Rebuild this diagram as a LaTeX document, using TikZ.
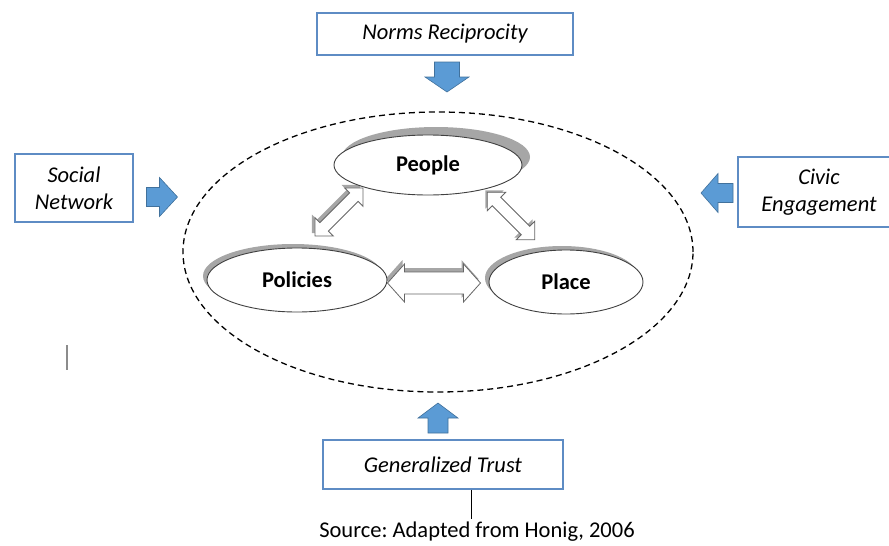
\documentclass[tikz,border=0pt]{standalone}
\usepackage{fontspec}
\setmainfont{Carlito}
\frenchspacing
\usetikzlibrary{shapes.geometric,shadows}
\definecolor{boxblue}{HTML}{5E8CC4}
\definecolor{arrowfill}{HTML}{5B9BD5}
\definecolor{arrowedge}{HTML}{41719C}
\tikzset{
  labelbox/.style={draw=boxblue, line width=1.5pt, fill=white, inner sep=0pt,
    font=\fontsize{22.5}{27}\selectfont\itshape, align=center},
  oval/.style={ellipse, draw=black!75, line width=0.9pt, fill=white, inner sep=0pt,
    font=\fontsize{22.5}{27}\selectfont\bfseries},
  % solid blue block arrow pointing along +x: length, head length, head half width, shaft half width
  pics/blockarrow/.style n args={4}{code={
    \path[fill=arrowfill, draw=arrowedge, line width=0.6pt, line join=miter]
      ({-#1/2},{-#4}) -- ({#1/2-#2},{-#4}) -- ({#1/2-#2},{-#3}) -- ({#1/2},0)
      -- ({#1/2-#2},{#3}) -- ({#1/2-#2},{#4}) -- ({-#1/2},{#4}) -- cycle;
  }},
  % hollow double-headed block arrow along x
  pics/dblarrow/.style n args={4}{code={
    \path[pic actions]
      ({-#1/2},0) -- ({-#1/2+#2},{-#3}) -- ({-#1/2+#2},{-#4}) -- ({#1/2-#2},{-#4})
      -- ({#1/2-#2},{-#3}) -- ({#1/2},0) -- ({#1/2-#2},{#3}) -- ({#1/2-#2},{#4})
      -- ({-#1/2+#2},{#4}) -- ({-#1/2+#2},{#3}) -- cycle;
  }},
  hollow/.style={draw=black!60, line width=0.8pt, fill=white},
  shade/.style={draw=none, fill=black!35},
}
\begin{document}
\begin{tikzpicture}[x=1pt,y=-1pt]
  \useasboundingbox (0,0) rectangle (889,546);
  \clip (0,0) rectangle (889,546);

  % outer dashed boundary
  \node[ellipse, draw=black, line width=1.3pt, dash pattern=on 6pt off 4pt,
        minimum width=510pt, minimum height=280pt, inner sep=0pt] (frame) at (438,252) {};

  % hollow two-way arrows between the three ovals
  \pic[shift={(-3,-3)}, rotate=45, shade] at (339,212) {dblarrow={68}{13}{13}{6}};
  \pic[rotate=45, hollow] at (339,212) {dblarrow={68}{13}{13}{6}};
  \pic[shift={(-2,-2)}, rotate=-45, shade] at (511,216) {dblarrow={67}{13}{13}{6}};
  \pic[rotate=-45, hollow] at (511,216) {dblarrow={67}{13}{13}{6}};
  \pic[shift={(-2,-4)}, shade] at (434,283) {dblarrow={93}{17}{19}{11}};
  \pic[hollow] at (434,283) {dblarrow={93}{17}{19}{11}};

  % the three ovals
  \node[oval, minimum width=188pt, minimum height=60pt,
        drop shadow={shadow xshift=8pt, shadow yshift=8pt, fill=black!35, opacity=1}]
        (people) at (428,165) {People};
  \node[oval, minimum width=180pt, minimum height=64pt,
        drop shadow={shadow xshift=-4pt, shadow yshift=4pt, fill=black!35, opacity=1}]
        (policies) at (297,280) {Policies};
  \node[oval, minimum width=154pt, minimum height=64pt,
        drop shadow={shadow xshift=-4pt, shadow yshift=4pt, fill=black!35, opacity=1}]
        (place) at (566,282) {Place};

  % outer factors
  \node[labelbox, minimum width=256pt, minimum height=42pt] (norms) at (445,34) {Norms Reciprocity};
  \node[labelbox, minimum width=118pt, minimum height=68pt] (social) at (74,188) {Social\\Network};
  \node[labelbox, minimum width=162pt, minimum height=70pt] (civic) at (819,192) {Civic\\Engagement};
  \node[labelbox, minimum width=240pt, minimum height=49pt] (trust) at (443,464.5) {Generalized Trust};

  % blue arrows pointing into the dashed boundary
  \pic[rotate=-90] at (447,77) {blockarrow={30}{15}{22}{12.5}};
  \pic at (162,197) {blockarrow={31}{18}{19.5}{9.5}};
  \pic[rotate=180] at (717,193) {blockarrow={32}{17}{19.5}{9.5}};
  \pic[rotate=90] at (438,418) {blockarrow={30}{15}{20}{10}};

  % source note
  \node[font=\fontsize{22.5}{27}\selectfont, inner sep=0pt] (src) at (477,532) {Source: Adapted from Honig, 2006};
  \draw[line width=1pt] ([xshift=28pt]trust.south) -- ++(0,29);

  % small stray mark
  \draw[black!45, line width=2pt] (67,345) -- (67,370);
\end{tikzpicture}
\end{document}
